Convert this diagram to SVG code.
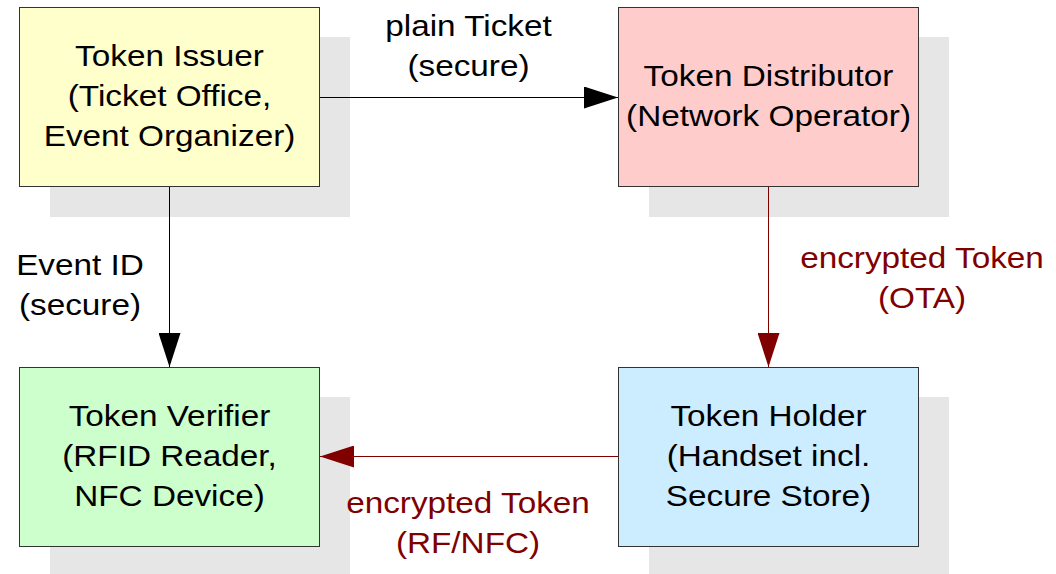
<svg xmlns="http://www.w3.org/2000/svg" width="1056" height="574" viewBox="0 0 1056 574">
  <style>
    .shadow { fill: #E6E6E6; stroke: none; }
    .box { stroke: #333333; stroke-width: 1; }
    .issuer { fill: #FFFFCC; }
    .distributor { fill: #FFCCCC; }
    .holder { fill: #CCECFF; }
    .verifier { fill: #CCFFCC; }
    text { font-family: "Liberation Sans", Arial, sans-serif; font-size: 30px; text-anchor: middle; }
    .dark { fill: #000000; }
    .red { fill: #800000; }
    .line-black { stroke: #000000; stroke-width: 1; fill: none; }
    .line-red { stroke: #800000; stroke-width: 1; fill: none; }
  </style>
  <defs>
    <marker id="head-black" viewBox="0 0 34 22" refX="34" refY="11" markerWidth="34" markerHeight="22" markerUnits="userSpaceOnUse" orient="auto">
      <path d="M0,0 L34,11 L0,22 Z" fill="#000000"/>
    </marker>
    <marker id="head-red" viewBox="0 0 34 22" refX="34" refY="11" markerWidth="34" markerHeight="22" markerUnits="userSpaceOnUse" orient="auto">
      <path d="M0,0 L34,11 L0,22 Z" fill="#800000"/>
    </marker>
  </defs>

  <!-- drop shadows -->
  <g id="shadows">
    <rect class="shadow" x="50" y="37" width="300" height="180"/>
    <rect class="shadow" x="649" y="37" width="300" height="180"/>
    <rect class="shadow" x="50" y="397" width="300" height="180"/>
    <rect class="shadow" x="649" y="397" width="300" height="180"/>
  </g>

  <!-- connectors -->
  <g id="connectors">
    <line class="line-black" x1="319" y1="97.5" x2="618" y2="97.5" marker-end="url(#head-black)"/>
    <line class="line-black" x1="169.5" y1="187" x2="169.5" y2="367" marker-end="url(#head-black)"/>
    <line class="line-red" x1="768.5" y1="187" x2="768.5" y2="367" marker-end="url(#head-red)"/>
    <line class="line-red" x1="619" y1="456.5" x2="320" y2="456.5" marker-end="url(#head-red)"/>
    <g transform="translate(468.5 0) scale(1.11 1)">
      <text class="dark" x="0" y="36">plain Ticket</text>
      <text class="dark" x="0" y="76">(secure)</text>
    </g>
    <g transform="translate(80 0) scale(1.11 1)">
      <text class="dark" x="0" y="275">Event ID</text>
      <text class="dark" x="0" y="315">(secure)</text>
    </g>
    <g transform="translate(922 0) scale(1.11 1)">
      <text class="red" x="0" y="268">encrypted Token</text>
      <text class="red" x="0" y="308">(OTA)</text>
    </g>
    <g transform="translate(468 0) scale(1.11 1)">
      <text class="red" x="0" y="513">encrypted Token</text>
      <text class="red" x="0" y="553">(RF/NFC)</text>
    </g>
  </g>

  <!-- nodes -->
  <g id="token-issuer">
    <rect class="box issuer" x="19.5" y="7.5" width="300" height="179"/>
    <g transform="translate(169.5 0) scale(1.11 1)">
      <text class="dark" x="0" y="66">Token Issuer</text>
      <text class="dark" x="0" y="106">(Ticket Office,</text>
      <text class="dark" x="0" y="146">Event Organizer)</text>
    </g>
  </g>

  <g id="token-distributor">
    <rect class="box distributor" x="618.5" y="7.5" width="300" height="179"/>
    <g transform="translate(768.5 0) scale(1.11 1)">
      <text class="dark" x="0" y="86">Token Distributor</text>
      <text class="dark" x="0" y="126">(Network Operator)</text>
    </g>
  </g>

  <g id="token-verifier">
    <rect class="box verifier" x="19.5" y="367.5" width="300" height="179"/>
    <g transform="translate(169.5 0) scale(1.11 1)">
      <text class="dark" x="0" y="426">Token Verifier</text>
      <text class="dark" x="0" y="466">(RFID Reader,</text>
      <text class="dark" x="0" y="506">NFC Device)</text>
    </g>
  </g>

  <g id="token-holder">
    <rect class="box holder" x="618.5" y="367.5" width="300" height="179"/>
    <g transform="translate(768.5 0) scale(1.11 1)">
      <text class="dark" x="0" y="426">Token Holder</text>
      <text class="dark" x="0" y="466">(Handset incl.</text>
      <text class="dark" x="0" y="506">Secure Store)</text>
    </g>
  </g>
</svg>
